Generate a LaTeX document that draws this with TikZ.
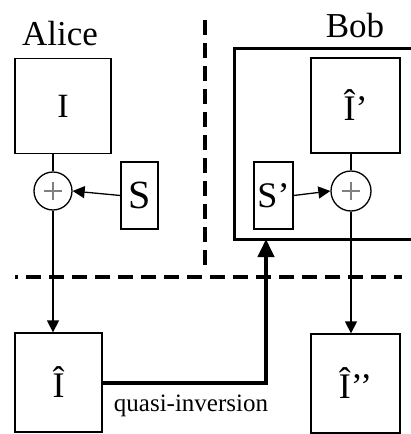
\documentclass[tikz,border=0pt]{standalone}
\usepackage{fontspec}
\setmainfont{Liberation Serif}
\usetikzlibrary{arrows.meta}
\begin{document}
\begin{tikzpicture}[x=1pt,y=-1pt,line width=1.3pt,
  blk/.style={draw,inner sep=0pt,font=\fontsize{36}{42}\selectfont},
  sumnode/.style={draw,circle,minimum size=38pt,inner sep=0pt,
    path picture={\draw[gray,line width=1.6pt]
      ([xshift=-9pt]path picture bounding box.center) -- ([xshift=9pt]path picture bounding box.center)
      ([yshift=-9pt]path picture bounding box.center) -- ([yshift=9pt]path picture bounding box.center);}},
  thin/.style={-{Triangle[length=12pt,width=12pt]}},
  fat/.style={line width=4pt,-{Triangle[length=18pt,width=16pt]}},
  sep/.style={line width=4.5pt,dash pattern=on 15pt off 8pt}]
\useasboundingbox (0,0) rectangle (411,434);

% Define dimensions
\def\xr{411}   % right edge of the picture
\def\yt{48}    % top of Bob's frame
\def\yb{239}   % bottom of Bob's frame

% Party names
\node[font=\fontsize{35}{40}\selectfont] (alice) at (60,34) {Alice};
\node[font=\fontsize{35}{40}\selectfont] (bob) at (355,26) {Bob};

% Separating lines
\draw[sep] (205,20) -- (205,272);
\draw[sep,dash phase=12pt] (15,277) -- (402,277);

% Alice side
\node[blk,minimum width=96pt,minimum height=95pt,font=\fontsize{34}{40}\selectfont] (img) at (63,106) {I};
\node[sumnode] (addA) at (53,191) {};
\node[blk,minimum width=37pt,minimum height=67pt,font=\fontsize{40}{46}\selectfont] (key) at (139.5,195.5) {S};
\node[blk,minimum width=87pt,minimum height=99pt] (est) at (58.5,382.5) {Î};

% Bob side
\draw[line width=3pt] (\xr,\yt) -- (234,\yt) -- (234,\yb) -- (\xr,\yb);
\coordinate (frame) at (266,\yb);
\node[blk,minimum width=89pt,minimum height=95pt] (estB) at (355.5,105.5) {Î’};
\node[sumnode,minimum size=40pt] (addB) at (351,191) {};
\node[blk,minimum width=39pt,minimum height=67pt] (keyB) at (273.5,195.5) {S’};
\node[blk,minimum width=89pt,minimum height=99pt] (estC) at (355.5,383.5) {Î’’};

% Connectors
\draw (img.south -| addA) -- (addA.north);
\draw[thin] (key.west) -- (addA.east);
\draw[thin] (addA.south) -- (addA.south |- est.north);
\draw (estB.south -| addB) -- (addB.north);
\draw[thin] (keyB.east) -- (addB.west);
\draw[thin] (addB.south) -- (addB.south |- estC.north);
\draw[fat] (est.east) -| (frame);

% Label
\node[font=\fontsize{25}{30}\selectfont] (inv) at (191,406) {quasi-inversion};

\end{tikzpicture}
\end{document}
